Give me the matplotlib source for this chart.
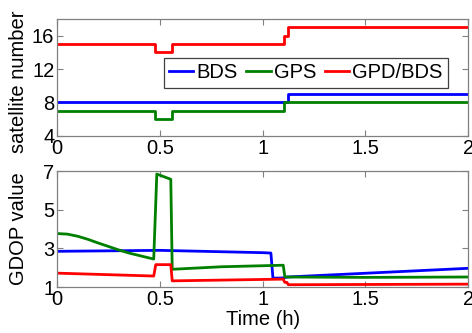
import matplotlib
matplotlib.use("Agg")
import matplotlib.pyplot as plt

plt.rcParams['font.family'] = ['Liberation Sans', 'DejaVu Sans']

# ---- top panel: satellite numbers (step data) ----
t_bds = [0.0, 1.124, 2.0]
n_bds = [8, 9, 9]
t_gps = [0.0, 0.477, 0.557, 1.105, 2.0]
n_gps = [7, 6, 7, 8, 8]
t_all = [0.0, 0.477, 0.557, 1.105, 1.124, 2.0]
n_all = [15, 14, 15, 16, 17, 17]

# ---- bottom panel: GDOP ----
tg_bds = [0.0, 0.5, 1.0, 1.04, 1.05, 1.10, 1.12, 2.0]
g_bds = [2.85, 2.90, 2.78, 2.76, 1.46, 1.47, 1.52, 1.97]
tg_gps = [0.0, 0.05, 0.1, 0.15, 0.2, 0.25, 0.3, 0.35, 0.4, 0.45, 0.47,
          0.485, 0.553, 0.56, 0.8, 1.10, 1.108, 1.5, 2.0]
g_gps = [3.77, 3.74, 3.63, 3.47, 3.28, 3.10, 2.92, 2.76, 2.63, 2.50, 2.45,
         6.85, 6.58, 1.92, 2.05, 2.13, 1.52, 1.50, 1.52]
tg_all = [0.0, 0.47, 0.48, 0.553, 0.56, 1.10, 1.108, 1.118, 1.125, 2.0]
g_all = [1.72, 1.57, 2.16, 2.16, 1.32, 1.41, 1.24, 1.24, 1.12, 1.15]

labels = ['BDS', 'GPS', 'GPD/BDS']
colors = ['#0000ff', '#008000', '#ff0000']
xticks = [0, 0.5, 1, 1.5, 2]
xticklabels = ['0', '0.5', '1', '1.5', '2']

fs = 14.5
fig = plt.figure(figsize=(4.72, 3.33), dpi=100)
ax1 = fig.add_axes([0.121, 0.592, 0.871, 0.351])
ax2 = fig.add_axes([0.121, 0.138, 0.871, 0.348])

lw = 2.0
ax1.plot(t_bds, n_bds, drawstyle='steps-post', color=colors[0], lw=lw, label=labels[0])
ax1.plot(t_gps, n_gps, drawstyle='steps-post', color=colors[1], lw=lw, label=labels[1])
ax1.plot(t_all, n_all, drawstyle='steps-post', color=colors[2], lw=lw, label=labels[2])

ax2.plot(tg_bds, g_bds, color=colors[0], lw=lw)
ax2.plot(tg_gps, g_gps, color=colors[1], lw=lw)
ax2.plot(tg_all, g_all, color=colors[2], lw=lw)

ax1.set_xlim(0, 2)
ax1.set_ylim(4, 18)
ax1.set_yticks([4, 8, 12, 16])
ax2.set_xlim(0, 2)
ax2.set_ylim(1, 7)
ax2.set_yticks([1, 3, 5, 7])

for ax in (ax1, ax2):
    ax.set_xticks(xticks)
    ax.set_xticklabels(xticklabels)
    ax.tick_params(direction='in', top=True, right=True, labelsize=fs,
                   length=4, width=0.8, color='#808080', pad=2)
    for s in ax.spines.values():
        s.set_color('#808080')
        s.set_linewidth(0.9)

ax1.set_ylabel('satellite number', fontsize=fs)
ax2.set_ylabel('GDOP value', fontsize=fs)
ax2.set_xlabel('Time (h)', fontsize=fs, labelpad=1)
ax1.yaxis.set_label_coords(-0.072, 0.46)
ax2.yaxis.set_label_coords(-0.072, 0.5)

leg = ax1.legend(loc='center', bbox_to_anchor=(0.605, 0.538), ncol=3,
                 fontsize=fs, handlelength=1.2, handletextpad=0.15,
                 columnspacing=0.45, borderpad=0.25, borderaxespad=0,
                 fancybox=False, framealpha=1)
leg.get_frame().set_edgecolor('#404040')
leg.get_frame().set_linewidth(0.9)

fig.savefig('out.png', dpi=100)
